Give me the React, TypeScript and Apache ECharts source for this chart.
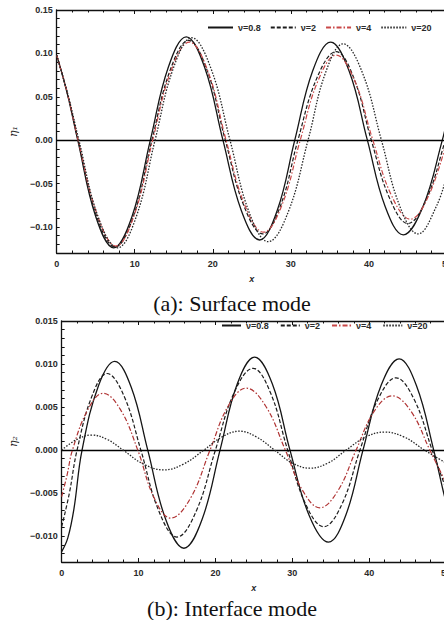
import React, { useEffect, useRef } from "react";
import * as echarts from "echarts";

const SERIES_NAMES = ["ν=0.8", "ν=2", "ν=4", "ν=20"];

const X_MIN = 0;
const X_MAX = 50;

// (a) Surface mode, eta_1
const TOP_Y_TICKS = [-0.1, -0.05, 0, 0.05, 0.1, 0.15];
const TOP_Y_LABELS = ["−0.10", "−0.05", "0.00", "0.05", "0.10", "0.15"];
const top_nu08 = [[0,0.098],[1.35,0.054],[2.7,0],[5.0,-0.088],[7.3,-0.124],[9.65,-0.088],[12.0,0],[14.3,0.084],[16.6,0.119],[18.95,0.084],[21.3,0],[23.65,-0.081],[26.0,-0.115],[28.25,-0.081],[30.5,0],[32.8,0.080],[35.1,0.113],[37.45,0.080],[39.8,0],[42.1,-0.077],[44.4,-0.109],[46.9,-0.077],[49.4,0],[50,0.024]];
const top_nu2 = [[0,0.098],[1.4,0.053],[2.75,0],[5.1,-0.087],[7.5,-0.123],[9.85,-0.087],[12.2,0],[14.55,0.081],[16.9,0.115],[19.25,0.081],[21.6,0],[24.0,-0.076],[26.4,-0.108],[28.65,-0.076],[30.9,0],[33.35,0.072],[35.8,0.102],[38.05,0.072],[40.3,0],[42.65,-0.067],[45.0,-0.096],[47.4,-0.067],[49.8,0],[50,0.006]];
const top_nu4 = [[0,0.098],[1.4,0.053],[2.75,0],[5.2,-0.086],[7.6,-0.122],[9.95,-0.086],[12.3,0],[14.65,0.080],[17.0,0.113],[19.35,0.080],[21.7,0],[24.1,-0.075],[26.5,-0.106],[28.85,-0.075],[31.2,0],[33.5,0.069],[35.8,0.098],[38.15,0.069],[40.5,0],[42.9,-0.064],[45.3,-0.091],[47.65,-0.064],[50,0]];
const top_nu20 = [[0,0.098],[1.45,0.052],[2.85,0],[5.3,-0.088],[7.8,-0.124],[10.2,-0.088],[12.6,0],[14.95,0.083],[17.3,0.118],[19.75,0.083],[22.2,0],[24.65,-0.083],[27.1,-0.117],[29.65,-0.083],[32.2,0],[34.45,0.078],[36.7,0.111],[39.15,0.078],[41.6,0],[43.95,-0.076],[46.3,-0.108],[48.65,-0.076],[50,-0.04]];

// (b) Interface mode, eta_2
const BOT_Y_TICKS = [-0.01, -0.005, 0, 0.005, 0.01, 0.015];
const BOT_Y_LABELS = ["−0.010", "−0.005", "0.000", "0.005", "0.010", "0.015"];
const bot_nu08 = [[0,-0.0118],[0.8,-0.0102],[1.6,-0.0068],[2.65,0],[4.8,0.0075],[6.9,0.0103],[9.05,0.0073],[11.2,0],[13.55,-0.0081],[15.9,-0.0114],[18.25,-0.0081],[20.6,0],[22.85,0.0077],[25.1,0.0108],[27.4,0.0077],[29.7,0],[32.2,-0.0076],[34.7,-0.0107],[36.95,-0.0076],[39.2,0],[41.55,0.0075],[43.9,0.0106],[46.15,0.0075],[48.4,0],[49.7,-0.005],[50,-0.006]];
const bot_nu2 = [[0,-0.0089],[1.0,-0.005],[2.0,0],[3.95,0.0063],[5.9,0.0089],[8.1,0.0063],[10.3,0],[12.65,-0.0071],[15.0,-0.0101],[17.5,-0.0071],[20.0,0],[22.45,0.0067],[24.9,0.0095],[27.15,0.0067],[29.4,0],[31.75,-0.0063],[34.1,-0.0089],[36.45,-0.0063],[38.8,0],[41.15,0.0059],[43.5,0.0084],[45.85,0.0059],[48.2,0],[50,-0.0045]];
const bot_nu4 = [[0,-0.0054],[0.7,-0.0029],[1.4,0],[3.4,0.0047],[5.4,0.0066],[7.65,0.0047],[9.9,0],[12.05,-0.0056],[14.2,-0.0079],[16.75,-0.0056],[19.3,0],[21.65,0.0051],[24.0,0.0072],[26.55,0.0051],[29.1,0],[31.35,-0.0047],[33.6,-0.0067],[35.95,-0.0047],[38.3,0],[40.65,0.0045],[43.0,0.0063],[45.45,0.0045],[47.9,0],[50,-0.0038]];
const bot_nu20 = [[0,0],[1.9,0.0012],[3.9,0.00175],[6.0,0.0012],[8.0,0],[10.6,-0.0016],[13.3,-0.0023],[15.9,-0.0016],[18.5,0],[20.8,0.0015],[23.1,0.0022],[25.4,0.0015],[27.7,0],[30.0,-0.0015],[32.3,-0.0021],[34.65,-0.0015],[37.0,0],[39.5,0.0015],[42.0,0.0021],[44.6,0.0015],[47.2,0],[50,-0.0015]];

const CAPTION_A = "(a): Surface mode";
const CAPTION_B = "(b): Interface mode";

const LINE_STYLES = [
  { color: "#151515", type: "solid" as any, width: 1.3 },
  { color: "#1c1c1c", type: [4, 2] as any, width: 1.2 },
  { color: "#c94848", type: [5, 2, 1.5, 2] as any, width: 1.2 },
  { color: "#262626", type: [1.5, 1.5] as any, width: 1.3 },
];

const LABEL_FONT = { fontFamily: "Liberation Sans, Arial, sans-serif", fontWeight: "bold" as any, fontSize: 9, color: "#2a2a2a" };

function yFormatter(vals: number[], labels: string[]) {
  return (v: number) => {
    for (let i = 0; i < vals.length; i++) if (Math.abs(v - vals[i]) < 1e-7) return labels[i];
    return "";
  };
}

function xAxes(gridIndex: number) {
  const common = {
    type: "value" as const,
    gridIndex,
    min: X_MIN,
    max: X_MAX,
    interval: 10,
    axisLine: { show: true, onZero: false, lineStyle: { color: "#111", width: 1.3 } },
    axisTick: { show: true, inside: true, length: 4, lineStyle: { color: "#111", width: 1 } },
    minorTick: { show: true, splitNumber: 5, length: 2.5, lineStyle: { color: "#111", width: 1 } },
    splitLine: { show: false },
    minorSplitLine: { show: false },
  };
  return [
    {
      ...common,
      position: "bottom",
      axisLabel: { ...LABEL_FONT, margin: 6, showMaxLabel: true, showMinLabel: true },
      name: "x",
      nameLocation: "middle",
      nameGap: 21,
      nameTextStyle: { ...LABEL_FONT, fontStyle: "italic", fontSize: 9 },
    },
    { ...common, position: "top", axisLabel: { show: false } },
  ];
}

function yAxis(gridIndex: number, min: number, max: number, interval: number, vals: number[], labels: string[], name: string) {
  return {
    type: "value" as const,
    gridIndex,
    min,
    max,
    interval,
    position: "left",
    axisLine: { show: true, onZero: false, lineStyle: { color: "#111", width: 1.3 } },
    axisTick: { show: true, inside: true, length: 3, lineStyle: { color: "#111", width: 1 } },
    axisLabel: { ...LABEL_FONT, margin: 4, formatter: yFormatter(vals, labels) },
    splitLine: { show: false },
    name,
    nameLocation: "middle",
    nameRotate: 90,
    nameGap: 30,
    nameTextStyle: { fontFamily: "DejaVu Serif, serif", fontStyle: "italic", fontSize: 11, color: "#222" },
  };
}

const zeroLine = {
  silent: true,
  symbol: "none",
  label: { show: false },
  lineStyle: { color: "#000", type: "solid", width: 1.3 },
  data: [{ yAxis: 0 }],
};

export default function App() {
  const ref = useRef<HTMLDivElement>(null);
  useEffect(() => {
    if (!ref.current) return;
    const chart = echarts.init(ref.current, null, { renderer: "svg" });
    const topData = [top_nu08, top_nu2, top_nu4, top_nu20];
    const botData = [bot_nu08, bot_nu2, bot_nu4, bot_nu20];
    const series: any[] = [];
    topData.forEach((d, i) => {
      series.push({
        type: "line",
        name: SERIES_NAMES[i],
        xAxisIndex: 0,
        yAxisIndex: 0,
        data: d,
        smooth: 0.4,
        symbol: "none",
        lineStyle: LINE_STYLES[i],
        itemStyle: { color: LINE_STYLES[i].color },
        z: 3 + i,
        markLine: i === 0 ? zeroLine : undefined,
      });
    });
    botData.forEach((d, i) => {
      series.push({
        type: "line",
        name: SERIES_NAMES[i],
        xAxisIndex: 2,
        yAxisIndex: 1,
        data: d,
        smooth: 0.4,
        symbol: "none",
        lineStyle: i === 2 ? { ...LINE_STYLES[i], color: "#b03434" } : LINE_STYLES[i],
        itemStyle: { color: i === 2 ? "#b03434" : LINE_STYLES[i].color },
        z: 3 + i,
        markLine: i === 0 ? zeroLine : undefined,
      });
    });
    const legendCommon = {
      data: SERIES_NAMES,
      itemHeight: 10,
      orient: "horizontal",
      selectedMode: false,
      itemStyle: { opacity: 0 },
      textStyle: { ...LABEL_FONT, fontSize: 9 },
    };
    chart.setOption({
      animation: false,
      backgroundColor: "#fff",
      grid: [
        { left: 50, top: 10, width: 397, height: 243, containLabel: false },
        { left: 56, top: 321, width: 390, height: 241, containLabel: false },
      ],
      legend: [
        { ...legendCommon, left: 202, top: 18, itemGap: 9, itemWidth: 25 },
        { ...legendCommon, left: 216, top: 316, itemGap: 11, itemWidth: 19 },
      ],
      xAxis: [...xAxes(0), ...xAxes(1)],
      yAxis: [
        yAxis(0, -0.13, 0.15, 0.01, TOP_Y_TICKS, TOP_Y_LABELS, "η₁"),
        yAxis(1, -0.013, 0.015, 0.001, BOT_Y_TICKS, BOT_Y_LABELS, "η₂"),
      ],
      series,
      graphic: [
        {
          type: "text",
          x: 232,
          y: 303,
          style: { text: CAPTION_A, fontFamily: "Liberation Serif", fontSize: 22, fill: "#111", align: "center", verticalAlign: "middle" },
        },
        {
          type: "text",
          x: 232,
          y: 608,
          style: { text: CAPTION_B, fontFamily: "Liberation Serif", fontSize: 22, fill: "#111", align: "center", verticalAlign: "middle" },
        },
      ],
    });
    return () => chart.dispose();
  }, []);
  return (
    <div style={{ position: "fixed", left: 0, top: 0, width: 444, height: 620, overflow: "hidden", background: "#fff" }}>
      <div ref={ref} style={{ width: 470, height: 620 }} />
    </div>
  );
}
